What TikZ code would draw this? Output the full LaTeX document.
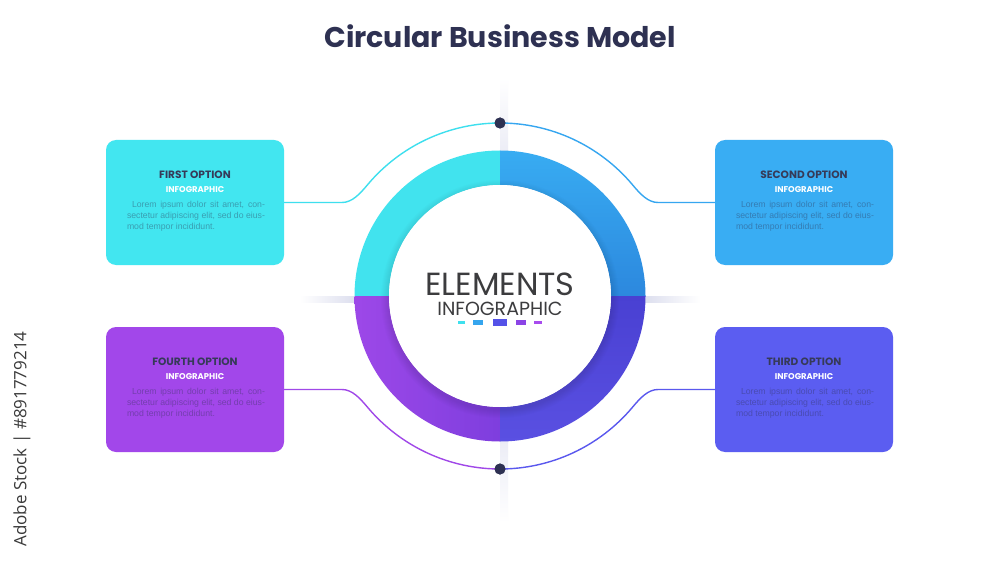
\documentclass[tikz,border=0pt]{standalone}
\usepackage{fontspec}
\setmainfont{Poppins}
\newfontfamily\bodyfont{Liberation Sans}
\newfontfamily\wmfont{Open Sans}
\usetikzlibrary{calc}
\definecolor{bxA}{HTML}{42E6F0}
\definecolor{bxB}{HTML}{39ADF3}
\definecolor{bxC}{HTML}{5B5DF1}
\definecolor{bxD}{HTML}{A247EA}
\definecolor{rgA}{HTML}{41E3EE}
\definecolor{rgBt}{HTML}{38ACF2}
\definecolor{rgBb}{HTML}{2C88DE}
\definecolor{rgCt}{HTML}{4940D2}
\definecolor{rgCb}{HTML}{5A50E2}
\definecolor{rgDl}{HTML}{9D48E8}
\definecolor{rgDr}{HTML}{7E3EDE}
\definecolor{lnA}{HTML}{3EDFEE}
\definecolor{lnB}{HTML}{36A6F0}
\definecolor{lnC}{HTML}{5A58EE}
\definecolor{lnD}{HTML}{A048E8}
\definecolor{navy}{HTML}{2E3152}
\definecolor{headc}{HTML}{363A58}
\definecolor{centc}{HTML}{3C3C3E}
\definecolor{shad}{HTML}{DCDEEE}
\definecolor{shadv}{HTML}{ECEDF6}
\definecolor{wmc}{HTML}{3A3A3A}
\definecolor{sqA}{HTML}{3FE0EE}
\definecolor{sqB}{HTML}{35A5EE}
\definecolor{sqC}{HTML}{5452E8}
\definecolor{sqD}{HTML}{8B44E6}
\definecolor{sqE}{HTML}{A84CEE}
\begin{document}
\begin{tikzpicture}[x=1pt,y=1pt,
  optbox/.style={rounded corners=10pt, minimum width=178pt, minimum height=125pt, inner sep=0pt, draw=none},
  head/.style={font=\bfseries\fontsize{10.6}{11}\selectfont, text=headc, inner sep=0pt},
  sub/.style={font=\bfseries\fontsize{8.4}{9}\selectfont, text=white, inner sep=0pt},
  body/.style={font=\bodyfont\fontsize{8.7}{11}\selectfont, text=navy, text opacity=0.4, align=left, inner sep=0pt},
  conn/.style={line width=1.4pt},
  dotnode/.style={circle, fill=navy, minimum size=11pt, inner sep=0pt}
]
\useasboundingbox (0,0) rectangle (1000,563);
\fill[white] (0,0) rectangle (1000,563);

% title
\node[font=\bfseries\fontsize{28.5}{29}\selectfont, text=navy, inner sep=0pt] (title) at (500,527) {Circular Business Model};

% shadow strips
\shade[left color=white, right color=shad] (300,261) rectangle (356,267);
\shade[right color=white, left color=shad] (644,261) rectangle (700,267);
\shade[top color=white, bottom color=shadv] (500,485) rectangle (508,412);
\shade[bottom color=white, top color=shadv] (500,122) rectangle (508,40);

% ring quadrants
\fill[rgA] (500,412.5) arc[start angle=90,end angle=180,radius=145.5] -- (389,267) arc[start angle=180,end angle=90,radius=111] -- cycle;
\begin{scope}
  \clip (500,412.5) arc[start angle=90,end angle=0,radius=145.5] -- (611,267) arc[start angle=0,end angle=90,radius=111] -- cycle;
  \shade[top color=rgBt, bottom color=rgBb] (500,267) rectangle (646,413);
\end{scope}
\begin{scope}
  \clip (645.5,267) arc[start angle=0,end angle=-90,radius=145.5] -- (500,156) arc[start angle=-90,end angle=0,radius=111] -- cycle;
  \shade[top color=rgCt, bottom color=rgCb] (500,121) rectangle (646,267);
\end{scope}
\begin{scope}
  \clip (354.5,267) arc[start angle=180,end angle=270,radius=145.5] -- (500,156) arc[start angle=270,end angle=180,radius=111] -- cycle;
  \shade[left color=rgDl, right color=rgDr] (354,121) rectangle (500,267);
\end{scope}

% white circle with soft shadow
\foreach \k in {1,...,8} {
  \fill[black, opacity=0.012] (500,264) circle[radius=111+\k];
}
\fill[white] (500,267) circle[radius=111];

% centre text
\node[font=\fontsize{32}{33}\selectfont, text=centc, inner sep=0pt] (el) at (500,278.5) {ELEMENTS};
\node[font=\fontsize{19}{19}\selectfont, text=centc, inner sep=0pt] (inf) at (500,254) {INFOGRAPHIC};
\fill[sqA] (457.7,238.7) rectangle (465.3,242.3);
\fill[sqB] (473.3,237.7) rectangle (483,243.3);
\fill[sqC] (492.7,236.7) rectangle (507.3,244.3);
\fill[sqD] (515.7,237.7) rectangle (526,243);
\fill[sqE] (534,238.7) rectangle (542.3,242);

% option boxes
\node[optbox, fill=bxA] (b1) at (195,360.5) {};
\node[optbox, fill=bxB] (b2) at (804,360.5) {};
\node[optbox, fill=bxC] (b3) at (804,173.5) {};
\node[optbox, fill=bxD] (b4) at (195,173.5) {};

\newcommand{\loremtext}{\makebox[138pt][s]{\hspace{5pt}Lorem ipsum dolor sit amet, con-}\\\makebox[138pt][s]{sectetur adipiscing elit, sed do eius-}\\\makebox[138pt][l]{mod tempor incididunt.}}

\foreach \b/\t in {b1/FIRST OPTION, b2/SECOND OPTION, b3/THIRD OPTION, b4/FOURTH OPTION} {
  \node[head] (\b h) at ($(\b.north)+(0,-34.5)$) {\t};
  \node[sub] (\b s) at ($(\b.north)+(0,-49.5)$) {INFOGRAPHIC};
  \node[body] (\b t) at ($(\b.north)+(1,-76.5)$) {\loremtext};
}

% connectors
\node[dotnode] (dt) at (500,440) {};
\node[dotnode] (db) at (500,94) {};
\draw[conn, lnA] (b1.east) -- (342,360.5) .. controls (352,360.5) and (359.8,369.0) .. (367.5,378.2) arc[start angle=140,end angle=90,radius=173];
\draw[conn, lnB] (dt.center) arc[start angle=90,end angle=40,radius=173] .. controls (640.2,369.0) and (648,360.5) .. (658,360.5) -- (b2.west);
\draw[conn, lnD] (b4.east) -- (342,173.5) .. controls (352,173.5) and (359.8,165) .. (367.5,155.8) arc[start angle=220,end angle=270,radius=173];
\draw[conn, lnC] (db.center) arc[start angle=270,end angle=320,radius=173] .. controls (640.2,165) and (648,173.5) .. (658,173.5) -- (b3.west);
\node[dotnode] (dt2) at (dt) {};
\node[dotnode] (db2) at (db) {};

% vertical credit text
\node[font=\wmfont\fontsize{17}{17}\selectfont, text=wmc, rotate=90, inner sep=0pt] (wm) at (22,124) {Adobe Stock | \#891779214};
\end{tikzpicture}
\end{document}
